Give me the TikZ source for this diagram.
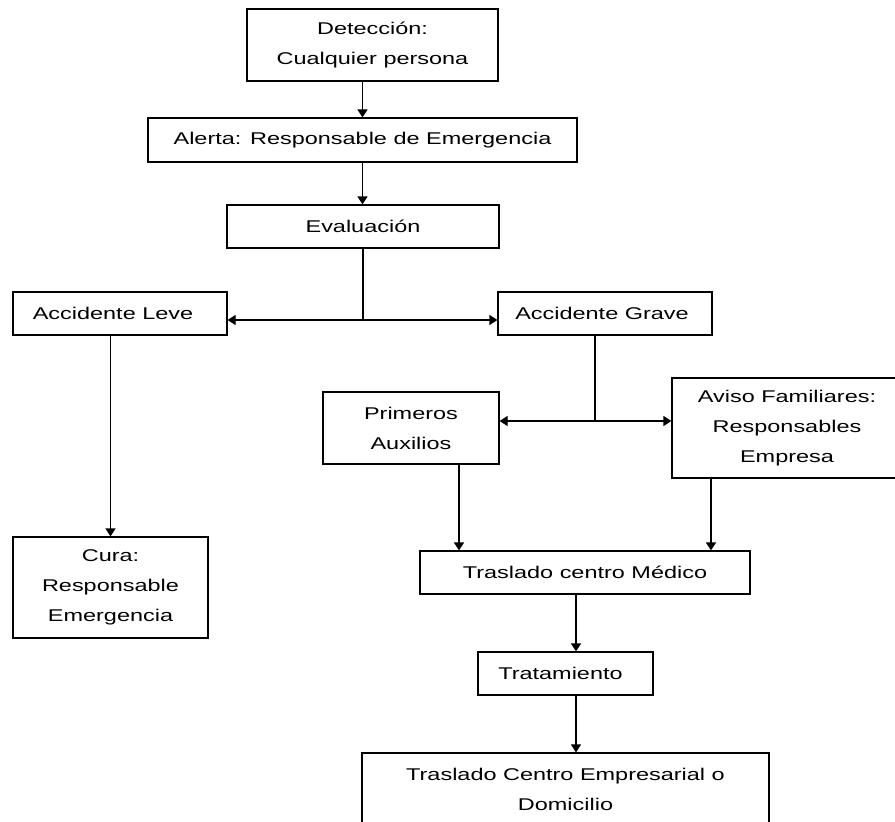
\documentclass[tikz,border=0pt]{standalone}
\usepackage{fontspec}
\setmainfont{Liberation Sans}[FakeStretch=1.38]
\usetikzlibrary{arrows.meta}

\begin{document}
\begin{tikzpicture}[x=1pt, y=-1pt,
    >={Triangle[length=8pt,width=10pt]},
    line width=1.2pt,
    every node/.append style={align=center},
    box/.style={draw, inner sep=0pt, font=\fontsize{17}{30}\selectfont}]
   \useasboundingbox (0,0) rectangle (895,822);

   \node [box, minimum width=251pt, minimum height=72pt]  (det)    at (372.5,45)  {Detección:\\Cualquier persona};
   \node [box, minimum width=429pt, minimum height=44pt]  (alert)  at (362.5,140) {Alerta: Responsable de Emergencia};
   \node [box, minimum width=272pt, minimum height=43pt]  (eval)   at (363,226.5) {Evaluación};
   \node [box, minimum width=214pt, minimum height=43pt]  (leve)   at (120,313.5) {Accidente Leve\hspace{14pt}};
   \node [box, minimum width=214pt, minimum height=43pt]  (grave)  at (605,313.5) {Accidente Grave\hspace{6pt}};
   \node [box, minimum width=176pt, minimum height=72pt]  (prim)   at (411,428)   {Primeros\\Auxilios};
   \node [box, minimum width=230pt, minimum height=100pt] (aviso)  at (787,428)   {Aviso Familiares:\\Responsables\\Empresa};
   \node [box, minimum width=195pt, minimum height=101pt] (cura)   at (110.5,587.5) {Cura:\\Responsable\\Emergencia};
   \node [box, minimum width=330pt, minimum height=43pt]  (medico) at (585,572.5) {Traslado centro Médico};
   \node [box, minimum width=175pt, minimum height=43pt]  (trat)   at (565.5,673.5) {Tratamiento\hspace{10pt}};
   \node [box, minimum width=407pt, minimum height=72pt]  (final)  at (565.5,789) {Traslado Centro Empresarial o\\Domicilio};

   % branch points
   \coordinate (b1) at (363,320);
   \coordinate (b2) at (595,421);

   \draw[->] (det.south -| alert.north) -- (alert.north);
   \draw[->] (alert.south) -- (alert.south |- eval.north);
   \draw (eval.south -| b1) -- (b1);
   \draw[->] (b1) -- (b1 -| leve.east);
   \draw[->] (b1) -- (b1 -| grave.west);
   \draw[->] (cura.north |- leve.south) -- (cura.north);
   \draw (grave.south -| b2) -- (b2);
   \draw[->] (b2) -- (b2 -| prim.east);
   \draw[->] (b2) -- (b2 -| aviso.west);
   \draw[->] ([xshift=48pt]prim.south) -- ([xshift=48pt]prim.south |- medico.north);
   \draw[->] ([xshift=-76pt]aviso.south) -- ([xshift=-76pt]aviso.south |- medico.north);
   \draw[->] ([xshift=-9pt]medico.south) -- ([xshift=-9pt]medico.south |- trat.north);
   \draw[->] ([xshift=10.5pt]trat.south) -- ([xshift=10.5pt]trat.south |- final.north);
\end{tikzpicture}
\end{document}
